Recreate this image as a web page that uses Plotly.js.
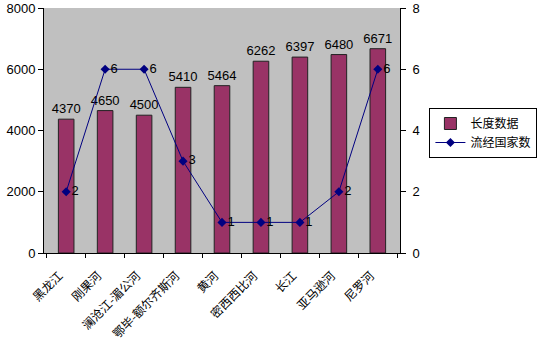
<!DOCTYPE html>
<html><head><meta charset="utf-8">
<script src="https://cdn.plot.ly/plotly-3.0.1.min.js"></script>
<style>html,body{margin:0;padding:0;background:#fff}</style>
</head><body>
<div id="chart" style="width:545px;height:342px"></div>
<script>
const categories = ["黑龙江","刚果河","澜沧江-湄公河","鄂毕-额尔齐斯河","黄河","密西西比河","长江","亚马逊河","尼罗河"];
const lengths = [4370,4650,4500,5410,5464,6262,6397,6480,6671];
const countries = [2,6,6,3,1,1,1,2,6];
const leftTicks = [0,2000,4000,6000,8000];
const rightTicks = [0,2,4,6,8];

const data = [
  {type:'bar', name:'长度数据', x:categories, y:lengths,
   marker:{color:'#993366', line:{color:'#222', width:1}},
   text:lengths.map(String), textposition:'outside', cliponaxis:false, constraintext:'none',
   textfont:{family:'Liberation Sans, Arial', size:13, color:'#000'},
   width:0.4},
  {type:'scatter', mode:'lines+markers+text', name:'流经国家数', x:categories, y:countries, yaxis:'y2',
   line:{color:'#000080', width:1}, marker:{symbol:'diamond', size:7, color:'#000080'},
   text:countries.map(String), textposition:'middle right', cliponaxis:false,
   textfont:{family:'Liberation Sans, Arial', size:13, color:'#000'}}
];
const layout = {
  width:545, height:342,
  margin:{l:44, r:138, t:8, b:89},
  paper_bgcolor:'#fff', plot_bgcolor:'#c0c0c0',
  showlegend:true,
  font:{family:'Liberation Sans, Arial', size:13, color:'#000'},
  xaxis:{type:'category', tickangle:-45, tickson:'boundaries', ticks:'outside', ticklen:4, tickcolor:'#000',
    showline:true, linecolor:'#000', linewidth:1, showgrid:false, automargin:false,
    ticklabelstandoff:10, ticklabelshift:-7,
    tickfont:{family:'Noto Sans CJK SC', size:12, color:'#000'}},
  yaxis:{range:[0,8000], tickvals:leftTicks, ticktext:leftTicks.map(String), ticks:'outside', ticklen:5, tickcolor:'#000',
    showline:true, linecolor:'#000', showgrid:false, zeroline:false, automargin:false,
    tickfont:{size:13}},
  yaxis2:{range:[0,8], overlaying:'y', side:'right', tickvals:rightTicks, ticktext:rightTicks.map(String),
    ticks:'outside', ticklen:5, tickcolor:'#000', showline:true, linecolor:'#000', showgrid:false, zeroline:false,
    tickfont:{size:13}, ticklabelstandoff:4, automargin:false},
  legend:{bordercolor:'#000', borderwidth:1, bgcolor:'#fff',
    font:{family:'Noto Sans CJK SC', size:12}, tracegroupgap:0}
};
layout.legend.x = (437-44)/(545-44-138);
layout.legend.y = 1-(108-8)/(342-8-89);
layout.legend.xanchor='left'; layout.legend.yanchor='top';
Plotly.newPlot('chart', data, layout, {displayModeBar:false, staticPlot:true});
</script>
</body></html>
